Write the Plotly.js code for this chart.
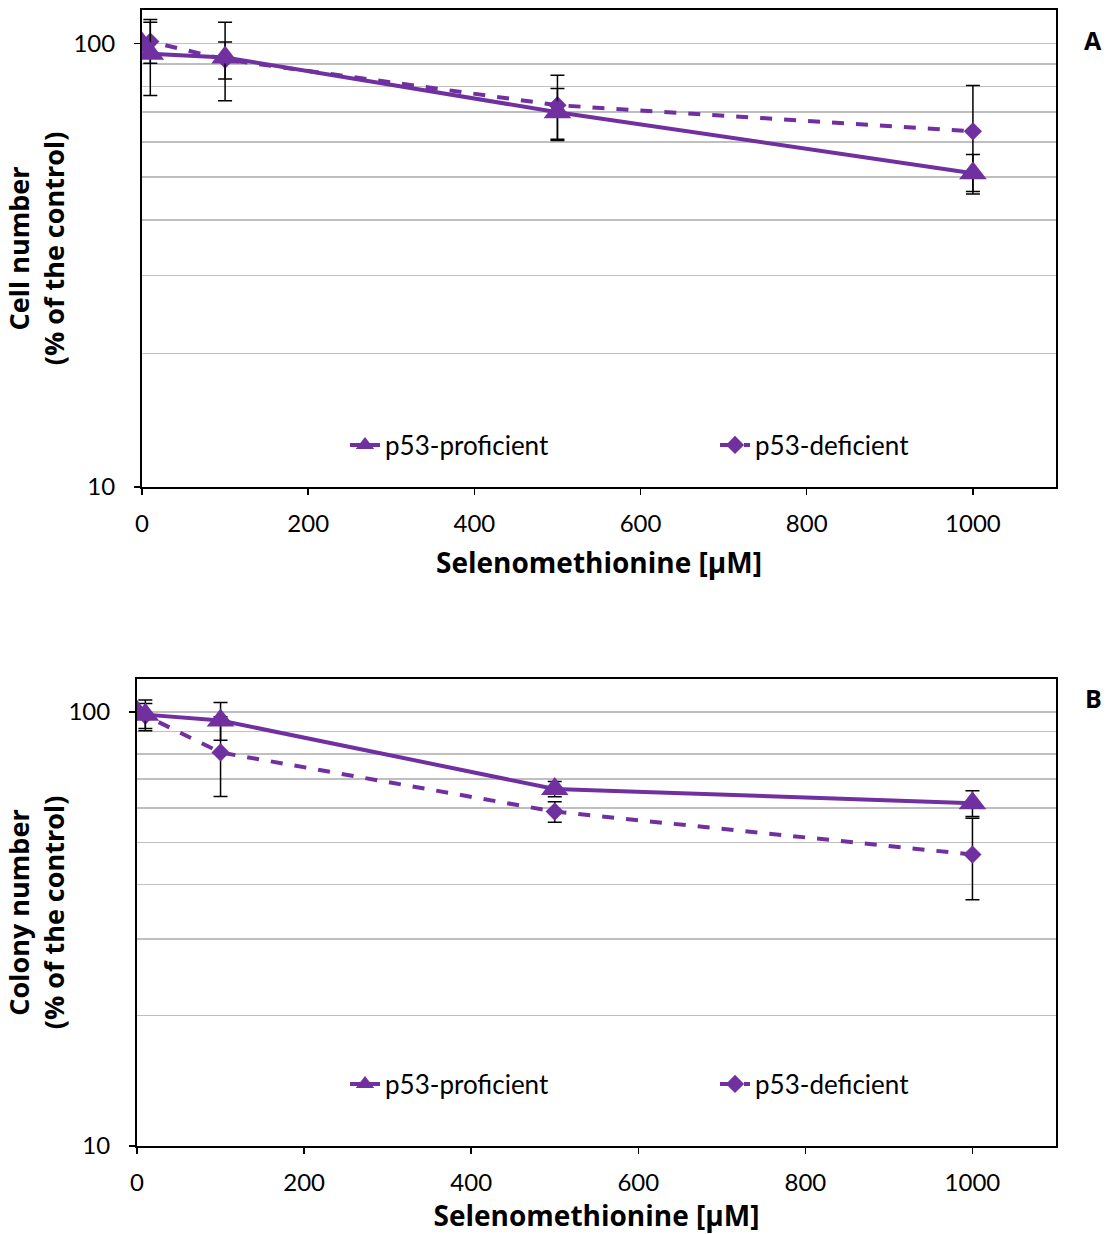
<!DOCTYPE html>
<html>
<head>
<meta charset="utf-8">
<script src="https://cdn.plot.ly/plotly-3.0.1.min.js"></script>
<style>html,body{margin:0;padding:0;background:#fff;}#chart{width:1112px;height:1234px;}</style>
</head>
<body>
<div id="chart"></div>
<script>
// Selenomethionine concentrations (µM)
const doses = [0, 10, 100, 500, 1000];

// Panel A: cell number (% of control)
const cellProficient = [100, 94.8, 93, 70, 51];
const cellProficientErr = [0, 18.5, 18.7, 9.2, 5.2];
const cellDeficient = [100, 101, 92, 72.6, 63.4];
const cellDeficientErr = [0, 10.7, 8.8, 12.2, 17];

// Panel B: colony number (% of control)
const colProficient = [100, 98.5, 95.5, 66.4, 61.6];
const colProficientErr = [0, 8, 9.5, 2.7, 4.2];
const colDeficient = [100, 98, 80.6, 58.9, 46.9];
const colDeficientErr = [0, 6.5, 16.8, 3.2, 10];

const xTicks = [0, 200, 400, 600, 800, 1000];
const yTicks = [10, 100];
const yMinor = [20, 30, 40, 50, 60, 70, 80, 90];
const seriesNames = ['p53-proficient', 'p53-deficient'];
const panelLabels = ['A', 'B'];

const purple = '#7030A0';
const FONT = 'Lato, "Open Sans", sans-serif';
const TFONT = '"Open Sans", Lato, sans-serif';
const W = 1112, H = 1234;

function errBar(arr) {
  return {type: 'data', array: arr, visible: true, color: '#000', thickness: 1.5, width: 7};
}
function trace(x, y, err, name, dashed, xa, ya, leg) {
  return {
    x: x, y: y, name: name, type: 'scatter', mode: 'lines+markers',
    xaxis: xa, yaxis: ya, legend: leg,
    legendrank: dashed ? 2 : 1,
    line: {color: purple, width: 4, dash: dashed ? 'dash' : 'solid'},
    marker: {color: purple, symbol: dashed ? 'diamond' : 'triangle-up', size: dashed ? 14 : 24},
    error_y: errBar(err)
  };
}

const data = [
  trace(doses, cellDeficient, cellDeficientErr, seriesNames[1], true, 'x', 'y', 'legend'),
  trace(doses, cellProficient, cellProficientErr, seriesNames[0], false, 'x', 'y', 'legend'),
  trace(doses, colDeficient, colDeficientErr, seriesNames[1], true, 'x2', 'y2', 'legend2'),
  trace(doses, colProficient, colProficientErr, seriesNames[0], false, 'x2', 'y2', 'legend2')
];

function xAxis(domain, anchor) {
  return {
    domain: domain, anchor: anchor, range: [0, 1100],
    tickvals: xTicks, ticks: 'outside', ticklen: 6, tickwidth: 1.5, tickcolor: '#000',
    ticklabelstandoff: 8,
    showline: true, linecolor: '#000', linewidth: 2, mirror: true,
    showgrid: false, zeroline: false,
    tickfont: {family: FONT, size: 24, color: '#000'},
    title: {text: '<b>Selenomethionine [µM]</b>', font: {family: TFONT, size: 28, color: '#000'}, standoff: 18}
  };
}
function yAxis(domain, anchor, title) {
  return {
    domain: domain, anchor: anchor, type: 'log', range: [1, Math.log10(119)],
    tickvals: yTicks, ticktext: yTicks.map(String),
    ticks: 'outside', ticklen: 6, tickwidth: 1.5, tickcolor: '#000',
    ticklabelstandoff: 14,
    showline: true, linecolor: '#000', linewidth: 2, mirror: true,
    showgrid: true, gridcolor: '#BFBFBF', gridwidth: 1.5, zeroline: false,
    minor: {tickvals: yMinor, showgrid: true, gridcolor: '#BFBFBF', gridwidth: 1.5, ticks: ''},
    tickfont: {family: FONT, size: 24, color: '#000'},
    title: {text: title, font: {family: TFONT, size: 27, color: '#000'}, standoff: 4}
  };
}

const legendCommon = {
  orientation: 'h', x: 345 / W, xanchor: 'left', yanchor: 'middle',
  bgcolor: 'rgba(0,0,0,0)', entrywidth: 325, entrywidthmode: 'pixels',
  font: {family: FONT, size: 26, color: '#000'}, traceorder: 'normal'
};

const layout = {
  width: W, height: H,
  margin: {l: 0, r: 0, t: 0, b: 0, autoexpand: false},
  paper_bgcolor: '#fff', plot_bgcolor: '#fff',
  font: {family: FONT, color: '#000'},
  showlegend: true,
  xaxis: xAxis([142 / W, 1056 / W], 'y'),
  yaxis: yAxis([1 - 487 / H, 1 - 10 / H], 'x', '<b>Cell number<br>(% of the control)</b>'),
  xaxis2: xAxis([137 / W, 1056 / W], 'y2'),
  yaxis2: yAxis([1 - 1146 / H, 1 - 679 / H], 'x2', '<b>Colony number<br>(% of the control)</b>'),
  legend: Object.assign({}, legendCommon, {y: 1 - 445 / H}),
  legend2: Object.assign({}, legendCommon, {y: 1 - 1084 / H}),
  annotations: [
    {text: '<b>' + panelLabels[0] + '</b>', xref: 'paper', yref: 'paper', x: 1093 / W, y: 1 - 40 / H,
     showarrow: false, xanchor: 'center', yanchor: 'middle', font: {family: TFONT, size: 25, color: '#000'}},
    {text: '<b>' + panelLabels[1] + '</b>', xref: 'paper', yref: 'paper', x: 1093 / W, y: 1 - 698 / H,
     showarrow: false, xanchor: 'center', yanchor: 'middle', font: {family: TFONT, size: 25, color: '#000'}}
  ]
};

Plotly.newPlot('chart', data, layout, {displayModeBar: false, staticPlot: true});
</script>
</body>
</html>
